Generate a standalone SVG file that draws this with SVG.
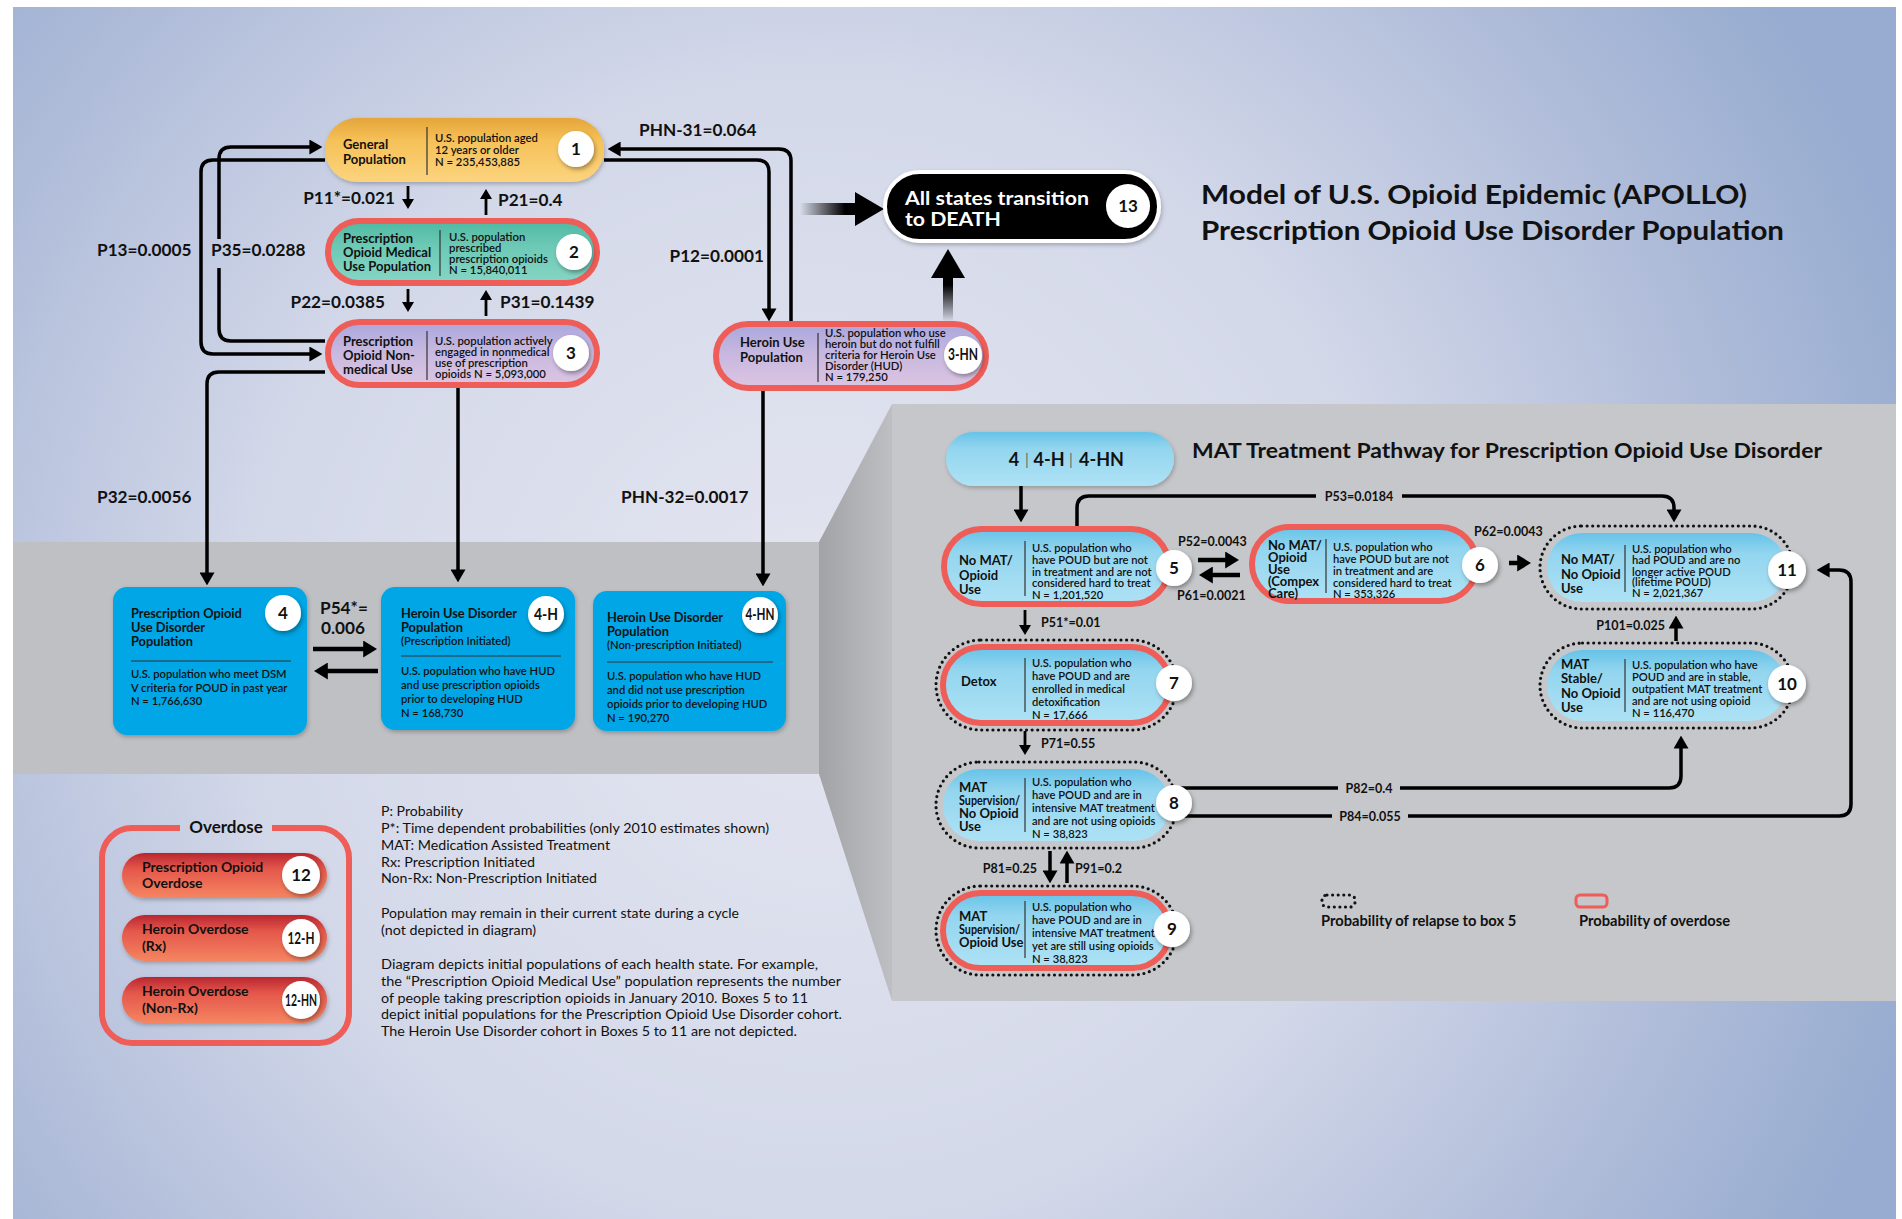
<svg xmlns="http://www.w3.org/2000/svg" width="1902" height="1219" viewBox="0 0 1902 1219">
<defs>
<style>
text{font-family:Lato,"Liberation Sans",sans-serif;fill:#111}
.lbl{font-weight:700;font-size:17.2px}
.lbs{font-weight:700;font-size:12.5px}
.nt{font-weight:700;font-size:13px}
.nb{font-weight:600;font-size:11.3px}
.rb{font-weight:600;font-size:11.2px}
.bt{font-weight:700;font-size:12.8px}
.bb{font-weight:600;font-size:11.2px}
.num{font-weight:700;font-size:17px;text-anchor:middle}
.note{font-size:14px;font-weight:400}
.conn{fill:none;stroke:#000;stroke-width:3.5}
.sm{stroke-width:2.8}
.thick{stroke-width:4.5}
.dot{fill:none;stroke:#111;stroke-width:3.2;stroke-dasharray:0 5.6;stroke-linecap:round}
.red{stroke:#ee5d57;stroke-width:6}
.div{stroke:#333;stroke-width:1.2}
.circ{fill:#fff;filter:url(#sh)}
.lb{fill:url(#gLB)}
.od{font-weight:700;font-size:14px}
.leg{font-weight:700;font-size:14.7px}
</style>
<radialGradient id="bg" gradientUnits="userSpaceOnUse" cx="820" cy="650" r="1150">
<stop offset="0" stop-color="#e4e6f0"/><stop offset="0.5" stop-color="#d3d8e9"/><stop offset="0.8" stop-color="#afbcd9"/><stop offset="1" stop-color="#97acd0"/>
</radialGradient>
<linearGradient id="gTrap" x1="0" y1="0" x2="1" y2="0"><stop offset="0" stop-color="#a2a3a7"/><stop offset="1" stop-color="#bebfc2"/></linearGradient>
<linearGradient id="gGold" x1="0" y1="0" x2="0" y2="1"><stop offset="0" stop-color="#e5a53a"/><stop offset="0.35" stop-color="#f5c158"/><stop offset="1" stop-color="#fcd47e"/></linearGradient>
<linearGradient id="gTeal" x1="0" y1="0" x2="0" y2="1"><stop offset="0" stop-color="#4fb9a3"/><stop offset="0.4" stop-color="#6cc9b5"/><stop offset="1" stop-color="#86d5c5"/></linearGradient>
<linearGradient id="gLav" x1="0" y1="0" x2="0" y2="1"><stop offset="0" stop-color="#aaa7dc"/><stop offset="0.5" stop-color="#c9b9e0"/><stop offset="1" stop-color="#dcc5e2"/></linearGradient>
<linearGradient id="gLB" x1="0" y1="0" x2="0" y2="1"><stop offset="0" stop-color="#66c3e8"/><stop offset="0.3" stop-color="#93d5ef"/><stop offset="1" stop-color="#aee2f5"/></linearGradient>
<linearGradient id="gRed" x1="0" y1="0" x2="0" y2="1"><stop offset="0" stop-color="#b9262f"/><stop offset="0.35" stop-color="#e4574b"/><stop offset="1" stop-color="#f58561"/></linearGradient>
<linearGradient id="gFadeV" gradientUnits="userSpaceOnUse" x1="0" y1="388" x2="0" y2="500"><stop offset="0" stop-color="#8c8c90"/><stop offset="1" stop-color="#000"/></linearGradient>
<linearGradient id="gFadeR" gradientUnits="userSpaceOnUse" x1="313" y1="0" x2="360" y2="0"><stop offset="0" stop-color="#000" stop-opacity="0.2"/><stop offset="1" stop-color="#000"/></linearGradient>
<linearGradient id="gFadeL" gradientUnits="userSpaceOnUse" x1="378" y1="0" x2="330" y2="0"><stop offset="0" stop-color="#000" stop-opacity="0.2"/><stop offset="1" stop-color="#000"/></linearGradient>
<linearGradient id="gDeathH" gradientUnits="userSpaceOnUse" x1="800" y1="0" x2="845" y2="0"><stop offset="0" stop-color="#000" stop-opacity="0"/><stop offset="1" stop-color="#000"/></linearGradient>
<linearGradient id="gDeathV" gradientUnits="userSpaceOnUse" x1="0" y1="322" x2="0" y2="285"><stop offset="0" stop-color="#000" stop-opacity="0"/><stop offset="1" stop-color="#000"/></linearGradient>
<filter id="sh" x="-30%" y="-30%" width="160%" height="160%"><feDropShadow dx="1.5" dy="2.5" stdDeviation="2" flood-color="#000" flood-opacity="0.35"/></filter>
<filter id="shs" x="-10%" y="-20%" width="120%" height="140%"><feDropShadow dx="1" dy="2" stdDeviation="2" flood-color="#000" flood-opacity="0.25"/></filter>
<marker id="ah" viewBox="0 0 10 10" refX="2" refY="5" markerWidth="13" markerHeight="15" markerUnits="userSpaceOnUse" orient="auto" preserveAspectRatio="none"><path d="M0,0 L10,5 L0,10 Z" fill="#000"/></marker>
<marker id="ahs" viewBox="0 0 10 10" refX="2" refY="5" markerWidth="10" markerHeight="12" markerUnits="userSpaceOnUse" orient="auto" preserveAspectRatio="none"><path d="M0,0 L10,5 L0,10 Z" fill="#000"/></marker>
<marker id="ahb" viewBox="0 0 10 10" refX="2" refY="5" markerWidth="14" markerHeight="17" markerUnits="userSpaceOnUse" orient="auto" preserveAspectRatio="none"><path d="M0,0 L10,5 L0,10 Z" fill="#000"/></marker>
</defs>

<rect x="0" y="0" width="1902" height="1219" fill="#fff"/>
<rect x="13" y="7" width="1883" height="1212" fill="url(#bg)"/>

<g id="panels">
<rect x="13" y="542" width="806" height="232" fill="#bfc0c4"/>
<polygon points="819,542 892,404 892,1001 819,774" fill="url(#gTrap)"/>
<rect x="892" y="404" width="1004" height="597" fill="#c6c7ca"/>
</g>

<g id="title">
<text x="1201" y="204" font-weight="700" font-size="26" textLength="546" lengthAdjust="spacingAndGlyphs">Model of U.S. Opioid Epidemic (APOLLO)</text>
<text x="1201" y="240" font-weight="700" font-size="26" textLength="583" lengthAdjust="spacingAndGlyphs">Prescription Opioid Use Disorder Population</text>
<text x="1192" y="458" font-weight="700" font-size="20.5" textLength="630" lengthAdjust="spacingAndGlyphs">MAT Treatment Pathway for Prescription Opioid Use Disorder</text>
</g>

<g id="connectors">
<path class="conn" d="M325 160 H213 Q201 160 201 172 V342 Q201 354 213 354 H312" marker-end="url(#ah)"/>
<path class="conn" d="M325 341 H231 Q219 341 219 329 V268"/>
<path class="conn" d="M219 239 V159 Q219 147 231 147 H312" marker-end="url(#ah)"/>
<path class="conn" d="M325 372 H219 Q207 372 207 384 V575" marker-end="url(#ah)"/>
<path class="conn" d="M458 388 V572" stroke="url(#gFadeV)" marker-end="url(#ah)"/>
<path class="conn" d="M763 391 V576" stroke="url(#gFadeV)" marker-end="url(#ah)"/>
<path class="conn" d="M791 324 V161 Q791 149 779 149 H618" marker-end="url(#ah)"/>
<path class="conn" d="M604 160 H757 Q769 160 769 172 V311" marker-end="url(#ah)"/>
<path class="conn sm" d="M408 186 V201" marker-end="url(#ahs)"/>
<path class="conn sm" d="M486 215 V197" marker-end="url(#ahs)"/>
<path class="conn sm" d="M408 289 V304" marker-end="url(#ahs)"/>
<path class="conn sm" d="M486 316 V298" marker-end="url(#ahs)"/>
<path class="conn thick" d="M313 649 H366" stroke="url(#gFadeR)" marker-end="url(#ahb)"/>
<path class="conn thick" d="M378 671 H325" stroke="url(#gFadeL)" marker-end="url(#ahb)"/>
<rect x="800" y="203" width="56" height="12" fill="url(#gDeathH)"/>
<polygon points="855,192 884,209 855,226" fill="#000"/>
<rect x="943" y="276" width="10" height="46" fill="url(#gDeathV)"/>
<polygon points="931,278 948,249 965,278" fill="#000"/>
<path class="conn" d="M1021 486 V512" marker-end="url(#ah)"/>
<path class="conn" d="M1077 526 V508 Q1077 496 1089 496 H1662 Q1674 496 1674 508 V512" marker-end="url(#ah)"/>
<path class="conn thick" d="M1198 560 H1228" marker-end="url(#ahb)"/>
<path class="conn thick" d="M1240 575 H1210" marker-end="url(#ahb)"/>
<path class="conn thick" d="M1509 563 H1520" marker-end="url(#ahb)"/>
<path class="conn sm" d="M1025 610 V627" marker-end="url(#ahs)"/>
<path class="conn sm" d="M1025 731 V747" marker-end="url(#ahs)"/>
<path class="conn" d="M1050 851 V873" marker-end="url(#ah)"/>
<path class="conn" d="M1067 883 V861" marker-end="url(#ah)"/>
<path class="conn" d="M1676 641 V626" marker-end="url(#ah)"/>
<path class="conn" d="M1178 788 H1669 Q1681 788 1681 776 V746" marker-end="url(#ah)"/>
<path class="conn" d="M1178 816 H1839 Q1851 816 1851 804 V582 Q1851 570 1839 570 H1827" marker-end="url(#ah)"/>
<rect x="1316" y="488" width="86" height="16" fill="#c6c7ca"/>
<rect x="1338" y="780" width="62" height="16" fill="#c6c7ca"/>
<rect x="1332" y="808" width="76" height="16" fill="#c6c7ca"/>
<text class="lbl" x="639" y="136">PHN-31=0.064</text>
<text class="lbl" x="764" y="262" text-anchor="end">P12=0.0001</text>
<text class="lbl" x="395" y="204" text-anchor="end">P11*=0.021</text>
<text class="lbl" x="498" y="206">P21=0.4</text>
<text class="lbl" x="385" y="308" text-anchor="end">P22=0.0385</text>
<text class="lbl" x="500" y="308">P31=0.1439</text>
<text class="lbl" x="97" y="256">P13=0.0005</text>
<text class="lbl" x="211" y="256">P35=0.0288</text>
<text class="lbl" x="97" y="503">P32=0.0056</text>
<text class="lbl" x="621" y="503">PHN-32=0.0017</text>
<text class="lbl" x="320" y="614">P54*=</text>
<text class="lbl" x="321" y="634">0.006</text>
<text class="lbs" x="1359" y="501" text-anchor="middle">P53=0.0184</text>
<text class="lbs" x="1178" y="546">P52=0.0043</text>
<text class="lbs" x="1177" y="600">P61=0.0021</text>
<text class="lbs" x="1474" y="536">P62=0.0043</text>
<text class="lbs" x="1041" y="627">P51*=0.01</text>
<text class="lbs" x="1041" y="748">P71=0.55</text>
<text class="lbs" x="1037" y="873" text-anchor="end">P81=0.25</text>
<text class="lbs" x="1075" y="873">P91=0.2</text>
<text class="lbs" x="1665" y="630" text-anchor="end">P101=0.025</text>
<text class="lbs" x="1369" y="793" text-anchor="middle">P82=0.4</text>
<text class="lbs" x="1370" y="821" text-anchor="middle">P84=0.055</text>
</g>

<g id="node-1">
<rect x="325" y="118" width="279" height="64" rx="32" fill="url(#gGold)" filter="url(#shs)"/>
<line class="div" x1="427" y1="127" x2="427" y2="175"/>
<text class="nt" x="343" y="149">General</text>
<text class="nt" x="343" y="164">Population</text>
<text class="nb" x="435" y="142">U.S. population aged</text>
<text class="nb" x="435" y="154">12 years or older</text>
<text class="nb" x="435" y="166">N = 235,453,885</text>
<circle class="circ" cx="576" cy="149" r="18"/>
<text class="num" x="576" y="155">1</text>
</g>

<g id="node-2">
<rect x="328" y="221" width="269" height="62" rx="31" fill="url(#gTeal)" class="red"/>
<line class="div" x1="440" y1="230" x2="440" y2="276"/>
<text class="nt" x="343" y="243">Prescription</text>
<text class="nt" x="343" y="257">Opioid Medical</text>
<text class="nt" x="343" y="271">Use Population</text>
<text class="nb" x="449" y="241">U.S. population</text>
<text class="nb" x="449" y="252">prescribed</text>
<text class="nb" x="449" y="263">prescription opioids</text>
<text class="nb" x="449" y="274">N = 15,840,011</text>
<circle class="circ" cx="574" cy="252" r="18"/>
<text class="num" x="574" y="258">2</text>
</g>

<g id="node-3">
<rect x="328" y="322" width="269" height="63" rx="31.5" fill="url(#gLav)" class="red"/>
<line class="div" x1="427" y1="331" x2="427" y2="380"/>
<text class="nt" x="343" y="346">Prescription</text>
<text class="nt" x="343" y="360">Opioid Non-</text>
<text class="nt" x="343" y="374">medical Use</text>
<text class="nb" x="435" y="345" font-size="11">U.S. population actively</text>
<text class="nb" x="435" y="356" font-size="11">engaged in nonmedical</text>
<text class="nb" x="435" y="367" font-size="11">use of prescription</text>
<text class="nb" x="435" y="378" font-size="11">opioids N = 5,093,000</text>
<circle class="circ" cx="571" cy="353" r="18"/>
<text class="num" x="571" y="359">3</text>
</g>

<g id="node-3HN">
<rect x="716" y="324" width="270" height="64" rx="32" fill="url(#gLav)" class="red"/>
<line class="div" x1="818" y1="333" x2="818" y2="382"/>
<text class="nt" x="740" y="347">Heroin Use</text>
<text class="nt" x="740" y="362">Population</text>
<text class="nb" x="825" y="337" font-size="11">U.S. population who use</text>
<text class="nb" x="825" y="348" font-size="11">heroin but do not fulfill</text>
<text class="nb" x="825" y="359" font-size="11">criteria for Heroin Use</text>
<text class="nb" x="825" y="370" font-size="11">Disorder (HUD)</text>
<text class="nb" x="825" y="381" font-size="11">N = 179,250</text>
<circle class="circ" cx="963" cy="355" r="19"/>
<text class="num" x="963" y="360" font-size="14" textLength="30" lengthAdjust="spacingAndGlyphs">3-HN</text>
</g>

<g id="node-13">
<rect x="885" y="172" width="274" height="69" rx="34.5" fill="#000" stroke="#fff" stroke-width="4" filter="url(#shs)"/>
<text x="905" y="205" font-weight="700" font-size="19.5" style="fill:#fff" textLength="184" lengthAdjust="spacingAndGlyphs">All states transition</text>
<text x="905" y="226" font-weight="700" font-size="19.5" style="fill:#fff" textLength="96" lengthAdjust="spacingAndGlyphs">to DEATH</text>
<circle class="circ" cx="1128" cy="206" r="22"/>
<text class="num" x="1128" y="212" font-size="17">13</text>
</g>

<g id="node-4">
<rect x="113" y="587" width="194" height="148" rx="14" fill="#00a6e5" filter="url(#shs)"/>
<text class="bt" x="131" y="618">Prescription Opioid</text>
<text class="bt" x="131" y="632">Use Disorder</text>
<text class="bt" x="131" y="646">Population</text>
<line class="div" x1="131" y1="661" x2="291" y2="661"/>
<text class="bb" x="131" y="678">U.S. population who meet DSM</text>
<text class="bb" x="131" y="692">V criteria for POUD in past year</text>
<text class="bb" x="131" y="705">N = 1,766,630</text>
<circle class="circ" cx="283" cy="613" r="18"/>
<text class="num" x="283" y="619">4</text>
</g>

<g id="node-4H">
<rect x="381" y="587" width="194" height="143" rx="14" fill="#00a6e5" filter="url(#shs)"/>
<text class="bt" x="401" y="618">Heroin Use Disorder</text>
<text class="bt" x="401" y="632">Population</text>
<text class="bb" x="401" y="645" font-size="10.5">(Prescription Initiated)</text>
<line class="div" x1="401" y1="656" x2="561" y2="656"/>
<text class="bb" x="401" y="675">U.S. population who have HUD</text>
<text class="bb" x="401" y="689">and use prescription opioids</text>
<text class="bb" x="401" y="703">prior to developing HUD</text>
<text class="bb" x="401" y="717">N = 168,730</text>
<circle class="circ" cx="546" cy="614" r="18"/>
<text class="num" x="546" y="620" font-size="15" textLength="24" lengthAdjust="spacingAndGlyphs">4-H</text>
</g>

<g id="node-4HN">
<rect x="593" y="591" width="193" height="140" rx="14" fill="#00a6e5" filter="url(#shs)"/>
<text class="bt" x="607" y="622">Heroin Use Disorder</text>
<text class="bt" x="607" y="636">Population</text>
<text class="bb" x="607" y="649" font-size="10.5">(Non-prescription Initiated)</text>
<line class="div" x1="607" y1="662" x2="773" y2="662"/>
<text class="bb" x="607" y="680">U.S. population who have HUD</text>
<text class="bb" x="607" y="694">and did not use prescription</text>
<text class="bb" x="607" y="708">opioids prior to developing HUD</text>
<text class="bb" x="607" y="722">N = 190,270</text>
<circle class="circ" cx="760" cy="615" r="18"/>
<text class="num" x="760" y="620" font-size="14" textLength="29" lengthAdjust="spacingAndGlyphs">4-HN</text>
</g>

<g id="node-4-group">
<rect class="lb" x="946" y="432" width="228" height="54" rx="27" filter="url(#shs)"/>
<text x="1014" y="466" text-anchor="middle" font-weight="700" font-size="18">4</text>
<text x="1027" y="465" text-anchor="middle" font-weight="300" font-size="16">|</text>
<text x="1049" y="466" text-anchor="middle" font-weight="700" font-size="18">4-H</text>
<text x="1071" y="465" text-anchor="middle" font-weight="300" font-size="16">|</text>
<text x="1079" y="466" font-weight="700" font-size="18">4-HN</text>
</g>

<g id="node-5">
<rect class="lb red" x="944" y="529" width="225" height="75" rx="37.5"/>
<line class="div" x1="1025" y1="541" x2="1025" y2="596"/>
<text class="nt" x="959" y="565">No MAT/</text>
<text class="nt" x="959" y="580">Opioid</text>
<text class="nt" x="959" y="594">Use</text>
<text class="rb" x="1032" y="552">U.S. population who</text>
<text class="rb" x="1032" y="564">have POUD but are not</text>
<text class="rb" x="1032" y="576">in treatment and are not</text>
<text class="rb" x="1032" y="587">considered hard to treat</text>
<text class="rb" x="1032" y="599">N = 1,201,520</text>
<circle class="circ" cx="1174" cy="568" r="18"/>
<text class="num" x="1174" y="574">5</text>
</g>

<g id="node-6">
<rect class="lb red" x="1252" y="527" width="225" height="74" rx="37"/>
<line class="div" x1="1326" y1="539" x2="1326" y2="593"/>
<text class="nt" x="1268" y="550" font-size="10.8"><tspan x="1268" y="550">No MAT/</tspan><tspan x="1268" y="562">Opioid</tspan><tspan x="1268" y="574">Use</tspan><tspan x="1268" y="586">(Compex</tspan><tspan x="1268" y="598">Care)</tspan></text>
<text class="rb" x="1333" y="551">U.S. population who</text>
<text class="rb" x="1333" y="563">have POUD but are not</text>
<text class="rb" x="1333" y="575">in treatment and are</text>
<text class="rb" x="1333" y="587">considered hard to treat</text>
<text class="rb" x="1333" y="598">N = 353,326</text>
<circle class="circ" cx="1480" cy="565" r="18"/>
<text class="num" x="1480" y="571">6</text>
</g>

<g id="node-11">
<rect class="dot" x="1540" y="526" width="253" height="83" rx="41.5"/>
<rect class="lb" x="1547" y="533" width="239" height="69" rx="34.5"/>
<line class="div" x1="1625" y1="545" x2="1625" y2="592"/>
<text class="nt" x="1561" y="564">No MAT/</text>
<text class="nt" x="1561" y="579">No Opioid</text>
<text class="nt" x="1561" y="593">Use</text>
<text class="rb" x="1632" y="553">U.S. population who</text>
<text class="rb" x="1632" y="564">had POUD and are no</text>
<text class="rb" x="1632" y="576">longer active POUD</text>
<text class="rb" x="1632" y="586" font-size="10">(lifetime POUD)</text>
<text class="rb" x="1632" y="597">N = 2,021,367</text>
<circle class="circ" cx="1787" cy="570" r="19"/>
<text class="num" x="1787" y="576">11</text>
</g>

<g id="node-10">
<rect class="dot" x="1540" y="643" width="253" height="85" rx="42.5"/>
<rect class="lb" x="1547" y="650" width="239" height="71" rx="35.5"/>
<line class="div" x1="1625" y1="659" x2="1625" y2="712"/>
<text class="nt" x="1561" y="669">MAT</text>
<text class="nt" x="1561" y="683">Stable/</text>
<text class="nt" x="1561" y="698">No Opioid</text>
<text class="nt" x="1561" y="712">Use</text>
<text class="rb" x="1632" y="669">U.S. population who have</text>
<text class="rb" x="1632" y="681">POUD and are in stable,</text>
<text class="rb" x="1632" y="693">outpatient MAT treatment</text>
<text class="rb" x="1632" y="705">and are not using opioid</text>
<text class="rb" x="1632" y="717">N = 116,470</text>
<circle class="circ" cx="1787" cy="684" r="19"/>
<text class="num" x="1787" y="690">10</text>
</g>

<g id="node-7">
<rect class="dot" x="936" y="640" width="241" height="90" rx="45"/>
<rect class="lb red" x="943" y="647" width="227" height="76" rx="38"/>
<line class="div" x1="1025" y1="658" x2="1025" y2="712"/>
<text class="nt" x="961" y="686" font-size="13.5">Detox</text>
<text class="rb" x="1032" y="667">U.S. population who</text>
<text class="rb" x="1032" y="680">have POUD and are</text>
<text class="rb" x="1032" y="693">enrolled in medical</text>
<text class="rb" x="1032" y="706">detoxification</text>
<text class="rb" x="1032" y="719">N = 17,666</text>
<circle class="circ" cx="1174" cy="683" r="18"/>
<text class="num" x="1174" y="689">7</text>
</g>

<g id="node-8">
<rect class="dot" x="936" y="762" width="241" height="86" rx="43"/>
<rect class="lb" x="943" y="769" width="227" height="72" rx="36"/>
<line class="div" x1="1025" y1="778" x2="1025" y2="832"/>
<text class="nt" x="959" y="792" font-size="11">MAT</text>
<text class="nt" x="959" y="805" font-size="11" textLength="61" lengthAdjust="spacingAndGlyphs">Supervision/</text>
<text class="nt" x="959" y="818" font-size="11">No Opioid</text>
<text class="nt" x="959" y="831" font-size="11">Use</text>
<text class="rb" x="1032" y="786">U.S. population who</text>
<text class="rb" x="1032" y="799">have POUD and are in</text>
<text class="rb" x="1032" y="812">intensive MAT treatment</text>
<text class="rb" x="1032" y="825">and are not using opioids</text>
<text class="rb" x="1032" y="838">N = 38,823</text>
<circle class="circ" cx="1174" cy="803" r="18"/>
<text class="num" x="1174" y="809">8</text>
</g>

<g id="node-9">
<rect class="dot" x="936" y="886" width="241" height="89" rx="44.5"/>
<rect class="lb red" x="943" y="893" width="227" height="75" rx="37.5"/>
<line class="div" x1="1025" y1="901" x2="1025" y2="958"/>
<text class="nt" x="959" y="921" font-size="11">MAT</text>
<text class="nt" x="959" y="934" font-size="11" textLength="61" lengthAdjust="spacingAndGlyphs">Supervision/</text>
<text class="nt" x="959" y="947" font-size="11">Opioid Use</text>
<text class="rb" x="1032" y="911">U.S. population who</text>
<text class="rb" x="1032" y="924">have POUD and are in</text>
<text class="rb" x="1032" y="937">intensive MAT treatment</text>
<text class="rb" x="1032" y="950">yet are still using opioids</text>
<text class="rb" x="1032" y="963">N = 38,823</text>
<circle class="circ" cx="1172" cy="929" r="18"/>
<text class="num" x="1172" y="935">9</text>
</g>

<g id="legend">
<rect class="dot" x="1322" y="895" width="33" height="12" rx="5" stroke-width="2.4" stroke-dasharray="0 4.2"/>
<text class="leg" x="1321" y="926">Probability of relapse to box 5</text>
<rect x="1576" y="895" width="31" height="12" rx="4" fill="none" stroke="#ee5d57" stroke-width="3"/>
<text class="leg" x="1579" y="926">Probability of overdose</text>
</g>

<g id="overdose">
<path d="M180 828 H132 A30 30 0 0 0 102 858 V1013 A30 30 0 0 0 132 1043 H319 A30 30 0 0 0 349 1013 V858 A30 30 0 0 0 319 828 H272" fill="none" class="red"/>
<text x="226" y="833" text-anchor="middle" font-weight="700" font-size="17">Overdose</text>
</g>
<g id="node-12">
<rect x="122" y="853" width="205" height="45" rx="22.5" fill="url(#gRed)" filter="url(#shs)"/>
<text class="od" x="142" y="872">Prescription Opioid</text>
<text class="od" x="142" y="888">Overdose</text>
<circle class="circ" cx="301" cy="875" r="19"/>
<text class="num" x="301" y="881" font-size="18">12</text>
</g>
<g id="node-12H">
<rect x="122" y="915" width="205" height="46" rx="23" fill="url(#gRed)" filter="url(#shs)"/>
<text class="od" x="142" y="934">Heroin Overdose</text>
<text class="od" x="142" y="951" font-size="12.5">(Rx)</text>
<circle class="circ" cx="301" cy="938" r="19"/>
<text class="num" x="301" y="944" font-size="15" textLength="27" lengthAdjust="spacingAndGlyphs">12-H</text>
</g>
<g id="node-12HN">
<rect x="122" y="977" width="205" height="46" rx="23" fill="url(#gRed)" filter="url(#shs)"/>
<text class="od" x="142" y="996">Heroin Overdose</text>
<text class="od" x="142" y="1013" font-size="12">(Non-Rx)</text>
<circle class="circ" cx="301" cy="1000" r="19"/>
<text class="num" x="301" y="1006" font-size="14" textLength="32" lengthAdjust="spacingAndGlyphs">12-HN</text>
</g>

<g id="notes">
<text class="note" x="381" y="816" textLength="82" lengthAdjust="spacingAndGlyphs">P: Probability</text>
<text class="note" x="381" y="833" textLength="388" lengthAdjust="spacingAndGlyphs">P*: Time dependent probabilities (only 2010 estimates shown)</text>
<text class="note" x="381" y="850" textLength="229" lengthAdjust="spacingAndGlyphs">MAT: Medication Assisted Treatment</text>
<text class="note" x="381" y="867" textLength="154" lengthAdjust="spacingAndGlyphs">Rx: Prescription Initiated</text>
<text class="note" x="381" y="883" textLength="216" lengthAdjust="spacingAndGlyphs">Non-Rx: Non-Prescription Initiated</text>
<text class="note" x="381" y="918" textLength="358" lengthAdjust="spacingAndGlyphs">Population may remain in their current state during a cycle</text>
<text class="note" x="381" y="935" textLength="155" lengthAdjust="spacingAndGlyphs">(not depicted in diagram)</text>
<text class="note" x="381" y="969" textLength="437" lengthAdjust="spacingAndGlyphs">Diagram depicts initial populations of each health state. For example,</text>
<text class="note" x="381" y="986" textLength="460" lengthAdjust="spacingAndGlyphs">the “Prescription Opioid Medical Use” population represents the number</text>
<text class="note" x="381" y="1003" textLength="427" lengthAdjust="spacingAndGlyphs">of people taking prescription opioids in January 2010. Boxes 5 to 11</text>
<text class="note" x="381" y="1019" textLength="461" lengthAdjust="spacingAndGlyphs">depict initial populations for the Prescription Opioid Use Disorder cohort.</text>
<text class="note" x="381" y="1036" textLength="416" lengthAdjust="spacingAndGlyphs">The Heroin Use Disorder cohort in Boxes 5 to 11 are not depicted.</text>
</g>
</svg>
